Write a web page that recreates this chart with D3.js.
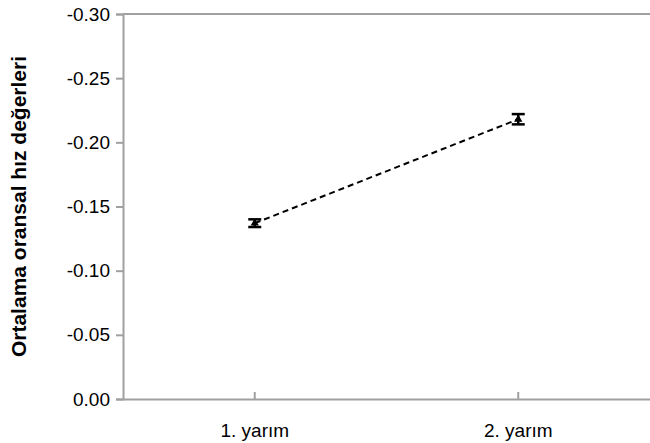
<!DOCTYPE html>
<html>
<head>
<meta charset="utf-8">
<script src="https://cdn.jsdelivr.net/npm/d3@7/dist/d3.min.js"></script>
<style>
  html, body { margin: 0; padding: 0; background: #fff; }
  svg { display: block; font-family: "Liberation Sans", Arial, sans-serif; }
</style>
</head>
<body>
<svg id="chart" width="650" height="443"></svg>
<script>
// Mean relative speed for each half, with error margins
const categories = ["1. yarım", "2. yarım"];
const means = [-0.137, -0.218];
const errors = [0.003, 0.004];
const yTicks = [0, -0.05, -0.10, -0.15, -0.20, -0.25, -0.30];
const yTitle = "Ortalama oransal hız değerleri";

const svg = d3.select("#chart");
const margin = { top: 14, right: 0, bottom: 44, left: 123 };
const W = 650, H = 443;

const x = d3.scaleBand()
  .domain(categories)
  .range([margin.left, W - margin.right])
  .paddingInner(0).paddingOuter(0);

const y = d3.scaleLinear()
  .domain([0, -0.30])
  .range([H - margin.bottom, margin.top]);

const axisColor = "#a0a0a0";
const fmt = d => d3.format(".2f")(d).replace("\u2212", "-");

// Y axis
const yAxis = svg.append("g")
  .attr("transform", `translate(${margin.left},0)`)
  .call(d3.axisLeft(y).tickValues(yTicks).tickFormat(fmt).tickSize(7).tickPadding(6));
yAxis.select(".domain").attr("stroke", axisColor).attr("stroke-width", 2);
yAxis.selectAll(".tick line").attr("stroke", axisColor).attr("stroke-width", 2);
yAxis.selectAll(".tick text")
  .attr("fill", "#000").attr("font-size", 19)
  .attr("font-family", "Liberation Sans, Arial, sans-serif");

// Top border line
svg.append("line")
  .attr("x1", margin.left).attr("x2", W)
  .attr("y1", y(-0.30)).attr("y2", y(-0.30))
  .attr("stroke", axisColor).attr("stroke-width", 2);

// X axis
const xAxis = svg.append("g")
  .attr("transform", `translate(0,${y(0)})`)
  .call(d3.axisBottom(x).tickSize(0).tickPadding(25));
xAxis.select(".domain").attr("stroke", axisColor).attr("stroke-width", 2);
xAxis.selectAll(".tick text")
  .attr("fill", "#000").attr("font-size", 19)
  .attr("font-family", "Liberation Sans, Arial, sans-serif");
// inner tick marks on category axis
xAxis.selectAll(".tick").append("line")
  .attr("y1", 0).attr("y2", -7)
  .attr("stroke", axisColor).attr("stroke-width", 2);

// Y axis title
svg.append("text")
  .attr("transform", `translate(26,${(y(0) + y(-0.30)) / 2}) rotate(-90)`)
  .attr("text-anchor", "middle")
  .attr("font-size", 21)
  .attr("font-weight", "bold")
  .attr("fill", "#000")
  .text(yTitle);

const cx = d => x(d) + x.bandwidth() / 2;
const pts = categories.map((c, i) => ({ c, v: means[i], e: errors[i] }));

// Dashed connecting line
svg.append("path")
  .datum(pts)
  .attr("fill", "none")
  .attr("stroke", "#000")
  .attr("stroke-width", 2)
  .attr("stroke-dasharray", "6,4")
  .attr("d", d3.line().x(d => cx(d.c)).y(d => y(d.v)));

// Error bars
const eb = svg.append("g").selectAll("g").data(pts).join("g");
eb.append("line")
  .attr("x1", d => cx(d.c)).attr("x2", d => cx(d.c))
  .attr("y1", d => y(d.v - d.e)).attr("y2", d => y(d.v + d.e))
  .attr("stroke", "#000").attr("stroke-width", 2.5);
eb.selectAll("line.cap")
  .data(d => [d.v - d.e, d.v + d.e].map(v => ({ c: d.c, v })))
  .join("line")
  .attr("class", "cap")
  .attr("x1", d => cx(d.c) - 6.5).attr("x2", d => cx(d.c) + 6.5)
  .attr("y1", d => y(d.v)).attr("y2", d => y(d.v))
  .attr("stroke", "#000").attr("stroke-width", 2.5);

// Triangle markers
svg.append("g").selectAll("path").data(pts).join("path")
  .attr("transform", d => `translate(${cx(d.c)},${y(d.v)})`)
  .attr("d", d3.symbol().type(d3.symbolTriangle).size(30))
  .attr("fill", "#000");
</script>
</body>
</html>
